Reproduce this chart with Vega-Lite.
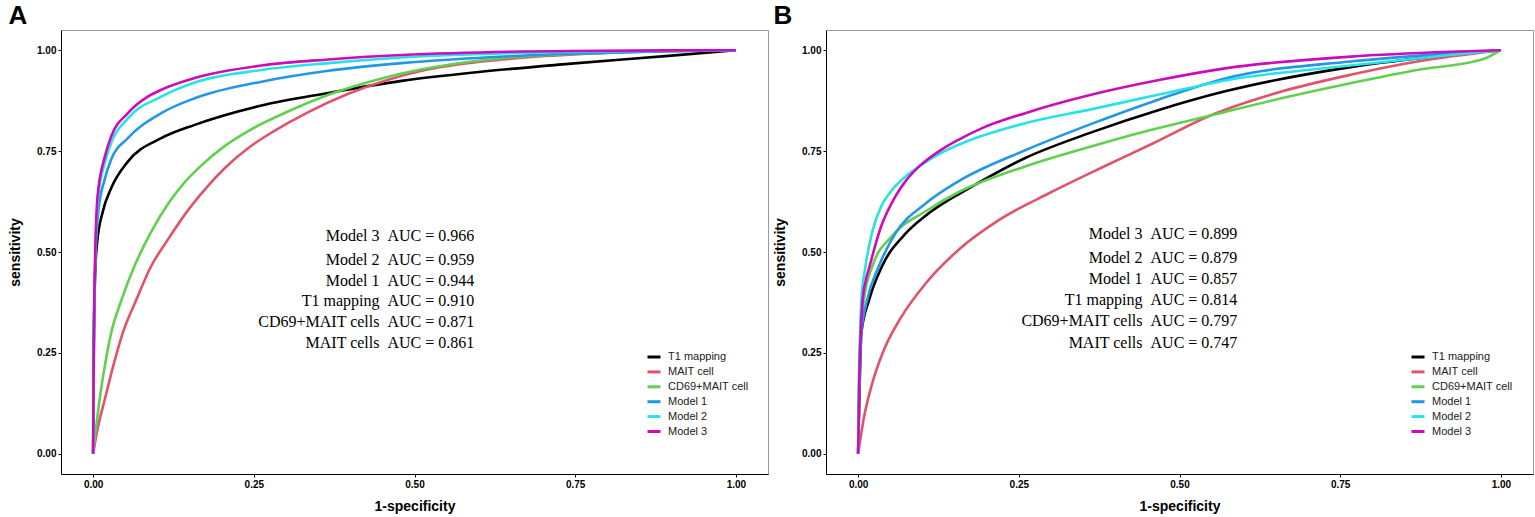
{
  "$schema": "https://vega.github.io/schema/vega-lite/v6.json",
  "background": "white",
  "padding": {"left": 8, "top": 2, "right": 0, "bottom": 0},
  "spacing": 4,
  "datasets": {
    "curves": [
      {"panel":"A","series":"T1 mapping","fpr":0,"tpr":0},
      {"panel":"A","series":"T1 mapping","fpr":0.001,"tpr":0.25},
      {"panel":"A","series":"T1 mapping","fpr":0.003,"tpr":0.44},
      {"panel":"A","series":"T1 mapping","fpr":0.006,"tpr":0.52},
      {"panel":"A","series":"T1 mapping","fpr":0.015,"tpr":0.60},
      {"panel":"A","series":"T1 mapping","fpr":0.028,"tpr":0.658},
      {"panel":"A","series":"T1 mapping","fpr":0.054,"tpr":0.724},
      {"panel":"A","series":"T1 mapping","fpr":0.106,"tpr":0.782},
      {"panel":"A","series":"T1 mapping","fpr":0.158,"tpr":0.815},
      {"panel":"A","series":"T1 mapping","fpr":0.262,"tpr":0.863},
      {"panel":"A","series":"T1 mapping","fpr":0.366,"tpr":0.894},
      {"panel":"A","series":"T1 mapping","fpr":0.48,"tpr":0.924},
      {"panel":"A","series":"T1 mapping","fpr":0.60,"tpr":0.946},
      {"panel":"A","series":"T1 mapping","fpr":0.739,"tpr":0.966},
      {"panel":"A","series":"T1 mapping","fpr":0.895,"tpr":0.986},
      {"panel":"A","series":"T1 mapping","fpr":1,"tpr":1},

      {"panel":"A","series":"MAIT cell","fpr":0,"tpr":0},
      {"panel":"A","series":"MAIT cell","fpr":0.008,"tpr":0.07},
      {"panel":"A","series":"MAIT cell","fpr":0.018,"tpr":0.134},
      {"panel":"A","series":"MAIT cell","fpr":0.031,"tpr":0.216},
      {"panel":"A","series":"MAIT cell","fpr":0.046,"tpr":0.299},
      {"panel":"A","series":"MAIT cell","fpr":0.067,"tpr":0.381},
      {"panel":"A","series":"MAIT cell","fpr":0.09,"tpr":0.464},
      {"panel":"A","series":"MAIT cell","fpr":0.116,"tpr":0.53},
      {"panel":"A","series":"MAIT cell","fpr":0.146,"tpr":0.60},
      {"panel":"A","series":"MAIT cell","fpr":0.175,"tpr":0.657},
      {"panel":"A","series":"MAIT cell","fpr":0.205,"tpr":0.708},
      {"panel":"A","series":"MAIT cell","fpr":0.245,"tpr":0.762},
      {"panel":"A","series":"MAIT cell","fpr":0.282,"tpr":0.80},
      {"panel":"A","series":"MAIT cell","fpr":0.334,"tpr":0.846},
      {"panel":"A","series":"MAIT cell","fpr":0.397,"tpr":0.892},
      {"panel":"A","series":"MAIT cell","fpr":0.459,"tpr":0.927},
      {"panel":"A","series":"MAIT cell","fpr":0.52,"tpr":0.952},
      {"panel":"A","series":"MAIT cell","fpr":0.636,"tpr":0.977},
      {"panel":"A","series":"MAIT cell","fpr":0.8,"tpr":0.993},
      {"panel":"A","series":"MAIT cell","fpr":1,"tpr":1},

      {"panel":"A","series":"CD69+MAIT cell","fpr":0,"tpr":0},
      {"panel":"A","series":"CD69+MAIT cell","fpr":0.005,"tpr":0.07},
      {"panel":"A","series":"CD69+MAIT cell","fpr":0.01,"tpr":0.134},
      {"panel":"A","series":"CD69+MAIT cell","fpr":0.018,"tpr":0.216},
      {"panel":"A","series":"CD69+MAIT cell","fpr":0.028,"tpr":0.299},
      {"panel":"A","series":"CD69+MAIT cell","fpr":0.044,"tpr":0.381},
      {"panel":"A","series":"CD69+MAIT cell","fpr":0.064,"tpr":0.464},
      {"panel":"A","series":"CD69+MAIT cell","fpr":0.089,"tpr":0.546},
      {"panel":"A","series":"CD69+MAIT cell","fpr":0.119,"tpr":0.625},
      {"panel":"A","series":"CD69+MAIT cell","fpr":0.142,"tpr":0.672},
      {"panel":"A","series":"CD69+MAIT cell","fpr":0.168,"tpr":0.714},
      {"panel":"A","series":"CD69+MAIT cell","fpr":0.205,"tpr":0.763},
      {"panel":"A","series":"CD69+MAIT cell","fpr":0.246,"tpr":0.804},
      {"panel":"A","series":"CD69+MAIT cell","fpr":0.303,"tpr":0.848},
      {"panel":"A","series":"CD69+MAIT cell","fpr":0.376,"tpr":0.895},
      {"panel":"A","series":"CD69+MAIT cell","fpr":0.449,"tpr":0.93},
      {"panel":"A","series":"CD69+MAIT cell","fpr":0.52,"tpr":0.955},
      {"panel":"A","series":"CD69+MAIT cell","fpr":0.636,"tpr":0.98},
      {"panel":"A","series":"CD69+MAIT cell","fpr":0.8,"tpr":0.994},
      {"panel":"A","series":"CD69+MAIT cell","fpr":1,"tpr":1},

      {"panel":"A","series":"Model 1","fpr":0,"tpr":0},
      {"panel":"A","series":"Model 1","fpr":0.001,"tpr":0.25},
      {"panel":"A","series":"Model 1","fpr":0.003,"tpr":0.45},
      {"panel":"A","series":"Model 1","fpr":0.008,"tpr":0.60},
      {"panel":"A","series":"Model 1","fpr":0.018,"tpr":0.68},
      {"panel":"A","series":"Model 1","fpr":0.028,"tpr":0.729},
      {"panel":"A","series":"Model 1","fpr":0.054,"tpr":0.782},
      {"panel":"A","series":"Model 1","fpr":0.106,"tpr":0.844},
      {"panel":"A","series":"Model 1","fpr":0.158,"tpr":0.881},
      {"panel":"A","series":"Model 1","fpr":0.262,"tpr":0.922},
      {"panel":"A","series":"Model 1","fpr":0.366,"tpr":0.949},
      {"panel":"A","series":"Model 1","fpr":0.48,"tpr":0.968},
      {"panel":"A","series":"Model 1","fpr":0.687,"tpr":0.988},
      {"panel":"A","series":"Model 1","fpr":1,"tpr":1},

      {"panel":"A","series":"Model 2","fpr":0,"tpr":0},
      {"panel":"A","series":"Model 2","fpr":0.001,"tpr":0.26},
      {"panel":"A","series":"Model 2","fpr":0.003,"tpr":0.47},
      {"panel":"A","series":"Model 2","fpr":0.008,"tpr":0.64},
      {"panel":"A","series":"Model 2","fpr":0.018,"tpr":0.72},
      {"panel":"A","series":"Model 2","fpr":0.028,"tpr":0.77},
      {"panel":"A","series":"Model 2","fpr":0.054,"tpr":0.831},
      {"panel":"A","series":"Model 2","fpr":0.106,"tpr":0.885},
      {"panel":"A","series":"Model 2","fpr":0.158,"tpr":0.92},
      {"panel":"A","series":"Model 2","fpr":0.262,"tpr":0.951},
      {"panel":"A","series":"Model 2","fpr":0.366,"tpr":0.968},
      {"panel":"A","series":"Model 2","fpr":0.48,"tpr":0.982},
      {"panel":"A","series":"Model 2","fpr":0.687,"tpr":0.994},
      {"panel":"A","series":"Model 2","fpr":1,"tpr":1},

      {"panel":"A","series":"Model 3","fpr":0,"tpr":0},
      {"panel":"A","series":"Model 3","fpr":0.001,"tpr":0.27},
      {"panel":"A","series":"Model 3","fpr":0.003,"tpr":0.48},
      {"panel":"A","series":"Model 3","fpr":0.007,"tpr":0.64},
      {"panel":"A","series":"Model 3","fpr":0.018,"tpr":0.735},
      {"panel":"A","series":"Model 3","fpr":0.028,"tpr":0.786},
      {"panel":"A","series":"Model 3","fpr":0.054,"tpr":0.844},
      {"panel":"A","series":"Model 3","fpr":0.085,"tpr":0.885},
      {"panel":"A","series":"Model 3","fpr":0.106,"tpr":0.902},
      {"panel":"A","series":"Model 3","fpr":0.158,"tpr":0.931},
      {"panel":"A","series":"Model 3","fpr":0.262,"tpr":0.962},
      {"panel":"A","series":"Model 3","fpr":0.366,"tpr":0.977},
      {"panel":"A","series":"Model 3","fpr":0.48,"tpr":0.988},
      {"panel":"A","series":"Model 3","fpr":0.739,"tpr":0.998},
      {"panel":"A","series":"Model 3","fpr":1,"tpr":1},

      {"panel":"B","series":"T1 mapping","fpr":0,"tpr":0},
      {"panel":"B","series":"T1 mapping","fpr":0.002,"tpr":0.15},
      {"panel":"B","series":"T1 mapping","fpr":0.005,"tpr":0.299},
      {"panel":"B","series":"T1 mapping","fpr":0.017,"tpr":0.381},
      {"panel":"B","series":"T1 mapping","fpr":0.037,"tpr":0.464},
      {"panel":"B","series":"T1 mapping","fpr":0.074,"tpr":0.546},
      {"panel":"B","series":"T1 mapping","fpr":0.105,"tpr":0.59},
      {"panel":"B","series":"T1 mapping","fpr":0.141,"tpr":0.629},
      {"panel":"B","series":"T1 mapping","fpr":0.156,"tpr":0.643},
      {"panel":"B","series":"T1 mapping","fpr":0.26,"tpr":0.733},
      {"panel":"B","series":"T1 mapping","fpr":0.364,"tpr":0.797},
      {"panel":"B","series":"T1 mapping","fpr":0.468,"tpr":0.852},
      {"panel":"B","series":"T1 mapping","fpr":0.571,"tpr":0.898},
      {"panel":"B","series":"T1 mapping","fpr":0.766,"tpr":0.958},
      {"panel":"B","series":"T1 mapping","fpr":0.921,"tpr":0.988},
      {"panel":"B","series":"T1 mapping","fpr":1,"tpr":1},

      {"panel":"B","series":"MAIT cell","fpr":0,"tpr":0},
      {"panel":"B","series":"MAIT cell","fpr":0.009,"tpr":0.09},
      {"panel":"B","series":"MAIT cell","fpr":0.022,"tpr":0.175},
      {"panel":"B","series":"MAIT cell","fpr":0.04,"tpr":0.257},
      {"panel":"B","series":"MAIT cell","fpr":0.066,"tpr":0.336},
      {"panel":"B","series":"MAIT cell","fpr":0.105,"tpr":0.422},
      {"panel":"B","series":"MAIT cell","fpr":0.156,"tpr":0.505},
      {"panel":"B","series":"MAIT cell","fpr":0.22,"tpr":0.58},
      {"panel":"B","series":"MAIT cell","fpr":0.30,"tpr":0.648},
      {"panel":"B","series":"MAIT cell","fpr":0.38,"tpr":0.71},
      {"panel":"B","series":"MAIT cell","fpr":0.46,"tpr":0.77},
      {"panel":"B","series":"MAIT cell","fpr":0.548,"tpr":0.838},
      {"panel":"B","series":"MAIT cell","fpr":0.66,"tpr":0.898},
      {"panel":"B","series":"MAIT cell","fpr":0.766,"tpr":0.939},
      {"panel":"B","series":"MAIT cell","fpr":0.87,"tpr":0.972},
      {"panel":"B","series":"MAIT cell","fpr":1,"tpr":1},

      {"panel":"B","series":"CD69+MAIT cell","fpr":0,"tpr":0},
      {"panel":"B","series":"CD69+MAIT cell","fpr":0.001,"tpr":0.15},
      {"panel":"B","series":"CD69+MAIT cell","fpr":0.004,"tpr":0.299},
      {"panel":"B","series":"CD69+MAIT cell","fpr":0.009,"tpr":0.381},
      {"panel":"B","series":"CD69+MAIT cell","fpr":0.022,"tpr":0.464},
      {"panel":"B","series":"CD69+MAIT cell","fpr":0.053,"tpr":0.54},
      {"panel":"B","series":"CD69+MAIT cell","fpr":0.105,"tpr":0.601},
      {"panel":"B","series":"CD69+MAIT cell","fpr":0.156,"tpr":0.648},
      {"panel":"B","series":"CD69+MAIT cell","fpr":0.26,"tpr":0.712},
      {"panel":"B","series":"CD69+MAIT cell","fpr":0.364,"tpr":0.762},
      {"panel":"B","series":"CD69+MAIT cell","fpr":0.455,"tpr":0.802},
      {"panel":"B","series":"CD69+MAIT cell","fpr":0.548,"tpr":0.838},
      {"panel":"B","series":"CD69+MAIT cell","fpr":0.662,"tpr":0.882},
      {"panel":"B","series":"CD69+MAIT cell","fpr":0.766,"tpr":0.918},
      {"panel":"B","series":"CD69+MAIT cell","fpr":0.869,"tpr":0.951},
      {"panel":"B","series":"CD69+MAIT cell","fpr":0.973,"tpr":0.978},
      {"panel":"B","series":"CD69+MAIT cell","fpr":1,"tpr":1},

      {"panel":"B","series":"Model 1","fpr":0,"tpr":0},
      {"panel":"B","series":"Model 1","fpr":0.002,"tpr":0.15},
      {"panel":"B","series":"Model 1","fpr":0.005,"tpr":0.299},
      {"panel":"B","series":"Model 1","fpr":0.014,"tpr":0.381},
      {"panel":"B","series":"Model 1","fpr":0.032,"tpr":0.464},
      {"panel":"B","series":"Model 1","fpr":0.058,"tpr":0.546},
      {"panel":"B","series":"Model 1","fpr":0.105,"tpr":0.62},
      {"panel":"B","series":"Model 1","fpr":0.156,"tpr":0.675},
      {"panel":"B","series":"Model 1","fpr":0.26,"tpr":0.752},
      {"panel":"B","series":"Model 1","fpr":0.364,"tpr":0.818},
      {"panel":"B","series":"Model 1","fpr":0.468,"tpr":0.878},
      {"panel":"B","series":"Model 1","fpr":0.571,"tpr":0.93},
      {"panel":"B","series":"Model 1","fpr":0.766,"tpr":0.972},
      {"panel":"B","series":"Model 1","fpr":0.921,"tpr":0.992},
      {"panel":"B","series":"Model 1","fpr":1,"tpr":1},

      {"panel":"B","series":"Model 2","fpr":0,"tpr":0},
      {"panel":"B","series":"Model 2","fpr":0.001,"tpr":0.15},
      {"panel":"B","series":"Model 2","fpr":0.003,"tpr":0.299},
      {"panel":"B","series":"Model 2","fpr":0.005,"tpr":0.381},
      {"panel":"B","series":"Model 2","fpr":0.011,"tpr":0.46},
      {"panel":"B","series":"Model 2","fpr":0.022,"tpr":0.55},
      {"panel":"B","series":"Model 2","fpr":0.035,"tpr":0.61},
      {"panel":"B","series":"Model 2","fpr":0.05,"tpr":0.648},
      {"panel":"B","series":"Model 2","fpr":0.07,"tpr":0.682},
      {"panel":"B","series":"Model 2","fpr":0.095,"tpr":0.712},
      {"panel":"B","series":"Model 2","fpr":0.125,"tpr":0.742},
      {"panel":"B","series":"Model 2","fpr":0.166,"tpr":0.772},
      {"panel":"B","series":"Model 2","fpr":0.26,"tpr":0.819},
      {"panel":"B","series":"Model 2","fpr":0.364,"tpr":0.854},
      {"panel":"B","series":"Model 2","fpr":0.468,"tpr":0.89},
      {"panel":"B","series":"Model 2","fpr":0.571,"tpr":0.925},
      {"panel":"B","series":"Model 2","fpr":0.766,"tpr":0.962},
      {"panel":"B","series":"Model 2","fpr":0.921,"tpr":0.988},
      {"panel":"B","series":"Model 2","fpr":1,"tpr":1},

      {"panel":"B","series":"Model 3","fpr":0,"tpr":0},
      {"panel":"B","series":"Model 3","fpr":0.002,"tpr":0.2},
      {"panel":"B","series":"Model 3","fpr":0.004,"tpr":0.30},
      {"panel":"B","series":"Model 3","fpr":0.007,"tpr":0.381},
      {"panel":"B","series":"Model 3","fpr":0.012,"tpr":0.43},
      {"panel":"B","series":"Model 3","fpr":0.017,"tpr":0.46},
      {"panel":"B","series":"Model 3","fpr":0.035,"tpr":0.56},
      {"panel":"B","series":"Model 3","fpr":0.058,"tpr":0.638},
      {"panel":"B","series":"Model 3","fpr":0.075,"tpr":0.678},
      {"panel":"B","series":"Model 3","fpr":0.095,"tpr":0.712},
      {"panel":"B","series":"Model 3","fpr":0.131,"tpr":0.755},
      {"panel":"B","series":"Model 3","fpr":0.156,"tpr":0.778},
      {"panel":"B","series":"Model 3","fpr":0.193,"tpr":0.807},
      {"panel":"B","series":"Model 3","fpr":0.26,"tpr":0.844},
      {"panel":"B","series":"Model 3","fpr":0.364,"tpr":0.89},
      {"panel":"B","series":"Model 3","fpr":0.468,"tpr":0.926},
      {"panel":"B","series":"Model 3","fpr":0.571,"tpr":0.955},
      {"panel":"B","series":"Model 3","fpr":0.766,"tpr":0.984},
      {"panel":"B","series":"Model 3","fpr":0.921,"tpr":0.996},
      {"panel":"B","series":"Model 3","fpr":1,"tpr":1}
    ],
    "auc": [
      {"panel":"A","label":"Model 3\u00a0\u00a0AUC = 0.966","x":0.593,"y":0.54},
      {"panel":"A","label":"Model 2\u00a0\u00a0AUC = 0.959","x":0.593,"y":0.48},
      {"panel":"A","label":"Model 1\u00a0\u00a0AUC = 0.944","x":0.593,"y":0.428},
      {"panel":"A","label":"T1 mapping\u00a0\u00a0AUC = 0.910","x":0.593,"y":0.379},
      {"panel":"A","label":"CD69+MAIT cells\u00a0\u00a0AUC = 0.871","x":0.593,"y":0.327},
      {"panel":"A","label":"MAIT cells\u00a0\u00a0AUC = 0.861","x":0.593,"y":0.275},
      {"panel":"B","label":"Model 3\u00a0\u00a0AUC = 0.899","x":0.59,"y":0.545},
      {"panel":"B","label":"Model 2\u00a0\u00a0AUC = 0.879","x":0.59,"y":0.485},
      {"panel":"B","label":"Model 1\u00a0\u00a0AUC = 0.857","x":0.59,"y":0.433},
      {"panel":"B","label":"T1 mapping\u00a0\u00a0AUC = 0.814","x":0.59,"y":0.381},
      {"panel":"B","label":"CD69+MAIT cells\u00a0\u00a0AUC = 0.797","x":0.59,"y":0.329},
      {"panel":"B","label":"MAIT cells\u00a0\u00a0AUC = 0.747","x":0.59,"y":0.275}
    ]
  },
  "hconcat": [
    {
      "width": 707,
      "height": 444,
      "title": {"text": "A"},
      "layer": [
        {
          "data": {"name": "curves"},
          "transform": [{"filter": "datum.panel === 'A'"}],
          "mark": {"type": "line", "strokeWidth": 2.6, "interpolate": "monotone"},
          "encoding": {
            "x": {"field": "fpr", "type": "quantitative", "title": "1-specificity",
                  "scale": {"domain": [-0.05, 1.05], "nice": false, "zero": false},
                  "axis": {"values": [0, 0.25, 0.5, 0.75, 1], "format": ".2f"}},
            "y": {"field": "tpr", "type": "quantitative", "title": "sensitivity",
                  "scale": {"domain": [-0.05, 1.05], "nice": false, "zero": false},
                  "axis": {"values": [0, 0.25, 0.5, 0.75, 1], "format": ".2f"}},
            "color": {"field": "series", "type": "nominal",
                      "scale": {"domain": ["T1 mapping", "MAIT cell", "CD69+MAIT cell", "Model 1", "Model 2", "Model 3"],
                                "range": ["#000000", "#DF536B", "#61D04F", "#2297E6", "#28E2E5", "#CD0BBC"]},
                      "legend": {"title": null, "orient": "none", "legendX": 585, "legendY": 319}}
          }
        },
        {
          "data": {"name": "auc"},
          "transform": [{"filter": "datum.panel === 'A'"}],
          "mark": {"type": "text", "align": "right", "baseline": "middle", "font": "Liberation Serif", "fontSize": 16, "color": "black"},
          "encoding": {
            "x": {"field": "x", "type": "quantitative"},
            "y": {"field": "y", "type": "quantitative"},
            "text": {"field": "label", "type": "nominal"}
          }
        }
      ]
    },
    {
      "width": 707,
      "height": 444,
      "title": {"text": "B"},
      "layer": [
        {
          "data": {"name": "curves"},
          "transform": [{"filter": "datum.panel === 'B'"}],
          "mark": {"type": "line", "strokeWidth": 2.6, "interpolate": "monotone"},
          "encoding": {
            "x": {"field": "fpr", "type": "quantitative", "title": "1-specificity",
                  "scale": {"domain": [-0.05, 1.05], "nice": false, "zero": false},
                  "axis": {"values": [0, 0.25, 0.5, 0.75, 1], "format": ".2f"}},
            "y": {"field": "tpr", "type": "quantitative", "title": "sensitivity",
                  "scale": {"domain": [-0.05, 1.05], "nice": false, "zero": false},
                  "axis": {"values": [0, 0.25, 0.5, 0.75, 1], "format": ".2f"}},
            "color": {"field": "series", "type": "nominal",
                      "scale": {"domain": ["T1 mapping", "MAIT cell", "CD69+MAIT cell", "Model 1", "Model 2", "Model 3"],
                                "range": ["#000000", "#DF536B", "#61D04F", "#2297E6", "#28E2E5", "#CD0BBC"]},
                      "legend": {"title": null, "orient": "none", "legendX": 584, "legendY": 319}}
          }
        },
        {
          "data": {"name": "auc"},
          "transform": [{"filter": "datum.panel === 'B'"}],
          "mark": {"type": "text", "align": "right", "baseline": "middle", "font": "Liberation Serif", "fontSize": 16, "color": "black"},
          "encoding": {
            "x": {"field": "x", "type": "quantitative"},
            "y": {"field": "y", "type": "quantitative"},
            "text": {"field": "label", "type": "nominal"}
          }
        }
      ]
    }
  ],
  "resolve": {"scale": {"color": "independent"}, "legend": {"color": "independent"}},
  "config": {
    "view": {"stroke": "#9a9a9a", "strokeWidth": 1},
    "axis": {
      "grid": false,
      "domainColor": "black",
      "domainWidth": 1,
      "tickColor": "black",
      "tickSize": 3,
      "labelPadding": 2,
      "labelColor": "black",
      "labelFont": "Liberation Sans",
      "labelFontWeight": "bold",
      "labelFontSize": 10,
      "titleFont": "Liberation Sans",
      "titleFontWeight": "bold",
      "titleFontSize": 14,
      "titleColor": "black"
    },
    "axisX": {"titlePadding": 10},
    "axisY": {"titlePadding": 14},
    "legend": {
      "symbolType": "stroke",
      "symbolSize": 169,
      "symbolStrokeWidth": 3,
      "labelFont": "Liberation Sans",
      "labelFontSize": 11,
      "labelColor": "#222222",
      "rowPadding": 0.9,
      "padding": 0,
      "labelOffset": 6
    },
    "title": {
      "anchor": "start",
      "frame": "bounds",
      "font": "Liberation Sans",
      "fontSize": 26,
      "fontWeight": "bold",
      "color": "black",
      "offset": 1.5
    }
  }
}
